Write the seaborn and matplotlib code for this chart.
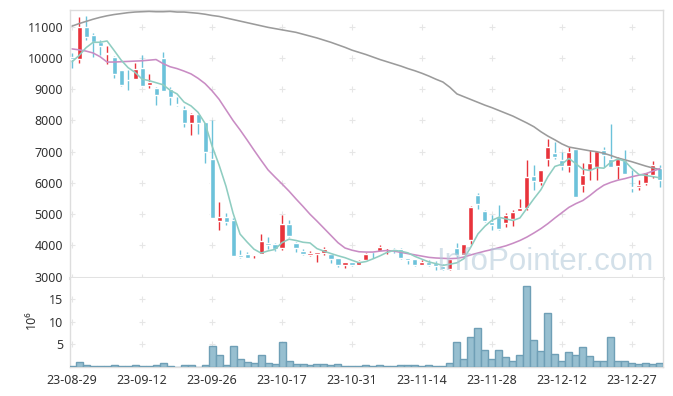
import numpy as np
import pandas as pd
import matplotlib
matplotlib.use("Agg")
import matplotlib.pyplot as plt
import seaborn as sns

# x-axis labels, one every 10 trading days
tick_labels = ["23-08-29", "23-09-12", "23-09-26", "23-10-17", "23-10-31",
               "23-11-14", "23-11-28", "23-12-12", "23-12-27"]

# daily OHLC (won)
opens = [10040, 9965, 11000, 10730, 10520, 10115, 10020, 9610, 9300, 9315,
         9665, 9120, 9025, 9985, 8995, 8530, 8360, 7925, 8200, 7955,
         6780, 4780, 4900, 4820, 3700, 3730, 3680, 3740, 4090, 4040,
         3920, 4700, 4075, 3830, 3700, 3740, 3750, 3740, 3590, 3375,
         3470, 3375, 3535, 3810, 3815, 3910, 3900, 3900, 3615, 3560,
         3375, 3470, 3430, 3340, 3260, 3910, 3690, 4180, 5620, 5100,
         4750, 4900, 4710, 4860, 5100, 5210, 6210, 6030, 6780, 6970,
         6730, 6550, 7080, 5950, 6410, 6510, 7050, 6780, 6550, 6750,
         5870, 5870, 6000, 6270, 6480]
highs = [10150, 11300, 11350, 10810, 10570, 10380, 10050, 9620, 9610, 9850,
         10090, 9475, 9080, 10180, 9080, 8760, 8460, 8250, 8210, 7960,
         8030, 5390, 5040, 4875, 3860, 3805, 3740, 4380, 4270, 4090,
         4990, 4800, 4110, 3900, 3810, 3800, 3960, 3770, 3590, 3470,
         3480, 3530, 3770, 3830, 4030, 3930, 3920, 3920, 3615, 3560,
         3530, 3530, 3510, 3400, 3560, 4090, 4040, 5250, 5690, 5130,
         4960, 5300, 5030, 5150, 5500, 6750, 6570, 6400, 7400, 7320,
         7000, 7140, 7100, 6640, 7050, 7020, 7150, 7880, 6840, 7070,
         6410, 6090, 6360, 6700, 6560]
lows = [9670, 9830, 10570, 10040, 10090, 9800, 9345, 9100, 8990, 9315,
        9090, 9025, 8490, 8950, 8510, 8460, 7795, 7550, 7560, 6640,
        4880, 4480, 4660, 3665, 3590, 3590, 3615, 3720, 3900, 3830,
        3870, 4270, 3790, 3690, 3660, 3470, 3700, 3450, 3310, 3290,
        3345, 3375, 3510, 3615, 3815, 3730, 3760, 3580, 3400, 3350,
        3375, 3340, 3210, 3210, 3220, 3610, 3610, 4060, 5180, 4740,
        4480, 4500, 4590, 4630, 5100, 5130, 5770, 5920, 6540, 6780,
        6430, 6350, 5550, 5710, 6090, 6090, 6510, 6510, 6140, 6300,
        5710, 5790, 5920, 6170, 5880]
closes = [9970, 10980, 10680, 10500, 10390, 10170, 9475, 9140, 9280, 9635,
          9090, 9230, 8810, 8950, 8760, 8500, 7920, 8200, 7925, 6995,
          4880, 4900, 4750, 3665, 3635, 3615, 3740, 4135, 4005, 3880,
          4700, 4290, 3930, 3720, 3770, 3790, 3880, 3555, 3365, 3460,
          3375, 3490, 3740, 3800, 3940, 3920, 3815, 3610, 3535, 3375,
          3470, 3375, 3340, 3260, 3560, 3700, 4040, 5220, 5330, 4790,
          4650, 4530, 4960, 5070, 5200, 6190, 6060, 6400, 7160, 6840,
          6550, 6980, 5550, 6270, 6640, 7020, 6890, 6510, 6780, 6300,
          5840, 5930, 6360, 6590, 6100]

# moving averages as drawn on the chart
ma5 = [9880, 10080, 10330, 10500, 10504, 10544, 10243, 9935, 9691, 9540,
       9324, 9275, 9209, 9143, 8968, 8850, 8588, 8466, 8261, 7908,
       7184, 6580, 5890, 5038, 4366, 4113, 3881, 3758, 3826, 3875,
       4092, 4202, 4161, 4104, 4082, 3900, 3818, 3743, 3672, 3610,
       3527, 3449, 3486, 3573, 3669, 3778, 3843, 3817, 3764, 3651,
       3561, 3473, 3419, 3364, 3401, 3447, 3580, 3956, 4370, 4616,
       4806, 4904, 4852, 4800, 4882, 5190, 5496, 5784, 6202, 6530,
       6602, 6786, 6616, 6438, 6398, 6492, 6474, 6666, 6768, 6700,
       6464, 6272, 6242, 6204, 6164]
ma20 = [10290, 10260, 10220, 10160, 10040, 9870, 9870, 9880, 9890, 9900,
        9910, 9930, 9950, 9820, 9720, 9660, 9580, 9490, 9350, 9180,
        8950, 8680, 8340, 8000, 7700, 7380, 7050, 6730, 6420, 6190,
        5970, 5740, 5490, 5250, 5000, 4780, 4550, 4320, 4090, 3920,
        3850, 3800, 3790, 3790, 3820, 3840, 3820, 3780, 3740, 3700,
        3660, 3620, 3600, 3590, 3580, 3590, 3630, 3700, 3760, 3820,
        3870, 3930, 3990, 4070, 4160, 4270, 4400, 4540, 4700, 4880,
        5050, 5220, 5340, 5440, 5600, 5780, 5930, 6020, 6090, 6140,
        6200, 6250, 6300, 6380, 6460]
ma60 = [11020, 11100, 11170, 11240, 11300, 11350, 11390, 11420, 11450, 11470,
        11480, 11490, 11480, 11480, 11490, 11470, 11470, 11450, 11430, 11400,
        11360, 11330, 11280, 11230, 11180, 11130, 11080, 11030, 10980, 10940,
        10900, 10860, 10820, 10760, 10700, 10640, 10570, 10500, 10420, 10340,
        10250, 10180, 10110, 10030, 9950, 9880, 9810, 9740, 9660, 9590,
        9510, 9420, 9320, 9230, 9060, 8850, 8760, 8670, 8580, 8490,
        8410, 8320, 8230, 8140, 8030, 7920, 7800, 7640, 7500, 7380,
        7250, 7150, 7110, 7070, 7030, 7000, 6950, 6880, 6800, 6740,
        6680, 6610, 6540, 6480, 6430]

# volume in millions of shares
volume = [0.25, 1.03, 0.35, 0.12, 0.12, 0.12, 0.35, 0.12, 0.12, 0.35,
          0.12, 0.12, 0.35, 0.8, 0.12, 0.0, 0.35, 0.35, 0.0, 0.35,
          4.7, 2.7, 0.35, 4.7, 1.85, 1.2, 0.8, 2.7, 0.8, 0.6,
          5.4, 1.4, 0.6, 0.6, 0.35, 0.6, 0.6, 0.35, 0.6, 0.12,
          0.12, 0.12, 0.35, 0.12, 0.35, 0.12, 0.12, 0.35, 0.35, 0.35,
          0.12, 0.35, 0.12, 0.12, 0.97, 5.6, 1.85, 6.5, 8.5, 3.85,
          1.85, 3.85, 2.3, 1.4, 2.75, 17.75, 6.05, 3.6, 11.8, 2.95,
          1.4, 3.2, 2.75, 4.5, 2.5, 1.4, 1.4, 6.5, 1.4, 1.4,
          0.97, 0.6, 0.8, 0.6, 0.8]

UP = "#e8333b"
DOWN = "#6cc2da"
EDGE = "#dddddd"

sns.set_theme(style="white")
plt.rcParams["font.family"] = ["Noto Sans", "DejaVu Sans"]

n = len(closes)
df = pd.DataFrame({"idx": np.arange(n), "open": opens, "high": highs, "low": lows,
                   "close": closes, "ma5": ma5, "ma20": ma20, "ma60": ma60,
                   "volume": volume})

fig = plt.figure(figsize=(6.73, 3.96), dpi=100)
ax = fig.add_axes([70 / 673, 1 - 278 / 396, 593 / 673, 268 / 396])
axv = fig.add_axes([70 / 673, 1 - 367 / 396, 593 / 673, 89 / 396], sharex=ax)

# candles
colors = np.where(df["close"] >= df["open"], UP, DOWN)
ax.vlines(df["idx"], df["low"], df["high"], colors=colors, lw=1, zorder=3)
body_lo = np.minimum(df["open"], df["close"])
body_h = np.maximum((df["close"] - df["open"]).abs(), 30)
ax.bar(df["idx"], body_h, bottom=body_lo, width=0.72, color=colors, zorder=4)

# moving averages
for col, c in [("ma60", "#9b9b9b"), ("ma20", "#c98cc4"), ("ma5", "#8fcdc1")]:
    sns.lineplot(data=df, x="idx", y=col, ax=ax, color=c, lw=1.15, zorder=5, legend=False)

# volume
axv.bar(df["idx"], df["volume"], width=1.0, color="#97bfd0", edgecolor="#6f9fb6",
        lw=1, zorder=3)

# axes setup
ticks = np.arange(0, n, 10)
yt = np.arange(3000, 11001, 1000)
vt = [5, 10, 15]
ax.set_xlim(-0.3, n - 0.55)
ax.set_ylim(2960, 11535)
axv.set_ylim(0, 19.6)
ax.set_yticks(yt)
ax.set_yticklabels([str(v) for v in yt])
axv.set_yticks(vt)
axv.set_yticklabels([str(v) for v in vt])
axv.set_xticks(ticks)
axv.set_xticklabels(tick_labels)
ax.tick_params(axis="x", labelbottom=False)
for a in (ax, axv):
    a.set_xlabel("")
    a.set_ylabel("")
    a.tick_params(length=0, labelsize=9, colors="#333333", pad=5)
    for s in a.spines.values():
        s.set_color(EDGE)
        s.set_linewidth(1)
    # cross-shaped grid marks
    gy = yt if a is ax else vt
    gx, gyy = np.meshgrid(ticks, gy)
    a.scatter(gx.ravel(), gyy.ravel(), marker="+", s=14, color="#e6e6e6", lw=0.8, zorder=1)
ax.spines["bottom"].set_linewidth(2.2)
ax.spines["bottom"].set_color("#e2e2e2")
axv.spines["top"].set_visible(False)

axv.set_ylabel("10\u2076", fontsize=9, color="#333333")
axv.yaxis.set_label_coords(-0.054, 0.53)

ax.text(0.80, 0.03, "InfoPointer.com", transform=ax.transAxes, ha="center",
        va="baseline", fontsize=22.5, color="#b6ccdb", alpha=0.6, zorder=6,
        family=["Liberation Sans", "DejaVu Sans"])

fig.savefig("out.png", dpi=100)
